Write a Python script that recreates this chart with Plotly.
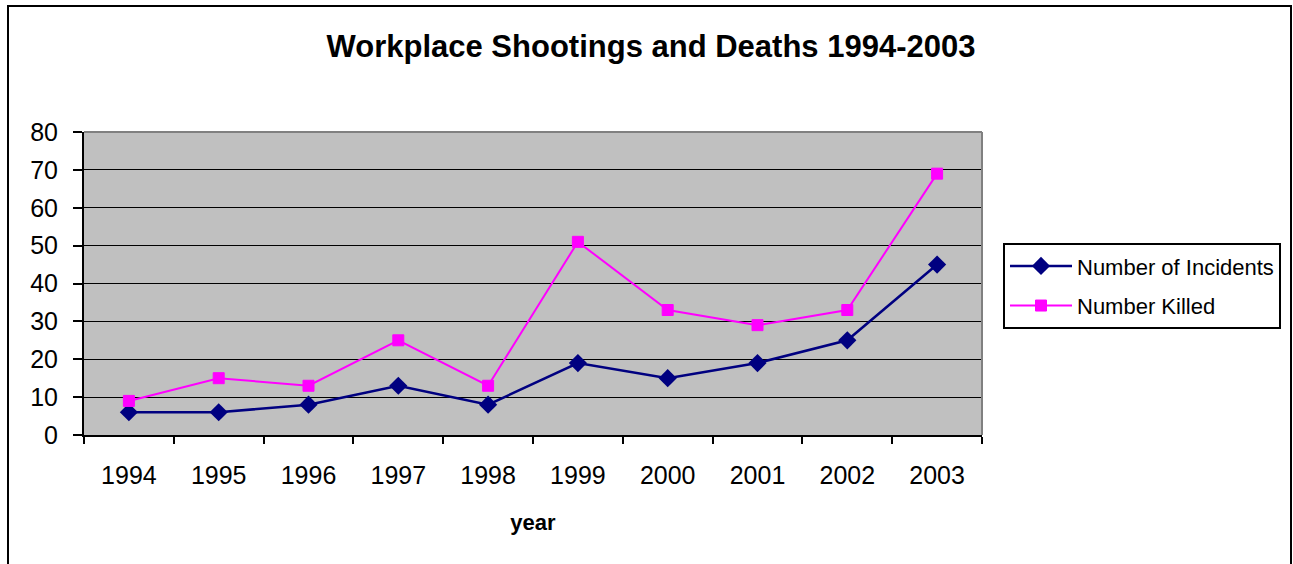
import plotly.graph_objects as go

years = ["1994", "1995", "1996", "1997", "1998", "1999", "2000", "2001", "2002", "2003"]
incidents = [6, 6, 8, 13, 8, 19, 15, 19, 25, 45]
killed = [9, 15, 13, 25, 13, 51, 33, 29, 33, 69]
y_ticks = [0, 10, 20, 30, 40, 50, 60, 70, 80]

FONT = "Liberation Sans, Arial, sans-serif"
W, H = 1293, 564
L, R, T, B = 84, 982, 131.5, 435.5
pw, ph = R - L, B - T

xs = list(range(len(years)))

fig = go.Figure()
fig.add_trace(go.Scatter(
    x=xs, y=incidents, name="Number of Incidents", mode="lines+markers",
    legendgroup="a",
    line=dict(color="#000080", width=2.5),
    marker=dict(symbol="diamond", size=14, color="#000080"),
))
fig.add_trace(go.Scatter(
    x=xs, y=killed, name="Number Killed", mode="lines+markers",
    legendgroup="b",
    line=dict(color="#FF00FF", width=2),
    marker=dict(symbol="square", size=11, color="#FF00FF",
                line=dict(color="#FF00FF", width=1)),
))

def px_x(p):
    return (p - L) / pw

def px_y(p):
    return (B - p) / ph

fig.update_layout(
    width=W, height=H,
    margin=dict(l=L, r=W - R, t=T, b=H - B, pad=0),
    paper_bgcolor="white",
    plot_bgcolor="#C0C0C0",
    font=dict(family=FONT, color="black"),
    title=dict(text="<b>Workplace Shootings and Deaths 1994-2003</b>",
               font=dict(size=31, family=FONT, color="black"),
               x=651 / W, xref="container", xanchor="center",
               y=1 - 46 / H, yref="container", yanchor="middle"),
    showlegend=True,
    legend=dict(
        x=px_x(1003), y=px_y(243), xanchor="left", yanchor="top",
        bgcolor="white", bordercolor="black", borderwidth=2,
        font=dict(size=22, family=FONT, color="black"),
        itemwidth=62, tracegroupgap=8,
    ),
    xaxis=dict(
        range=[-0.5, len(years) - 0.5],
        tickmode="array", tickvals=xs, ticktext=years,
        ticks="", showgrid=False, zeroline=False,
        showline=True, linecolor="black", linewidth=2,
        tickfont=dict(size=25, family=FONT, color="black"),
        ticklabelstandoff=17,
        minor=dict(tickmode="array",
                   tickvals=[i - 0.5 for i in range(len(years) + 1)],
                   ticks="outside", ticklen=7, tickwidth=2, tickcolor="black",
                   showgrid=False),
        title=dict(text="<b>year</b>", font=dict(size=22, family=FONT, color="black"),
                   standoff=27),
        fixedrange=True,
    ),
    yaxis=dict(
        range=[0, 80], tickmode="array", tickvals=y_ticks,
        ticks="outside", ticklen=9, tickwidth=2, tickcolor="black",
        showgrid=True, gridcolor="black", gridwidth=1,
        zeroline=False, showline=True, linecolor="black", linewidth=2,
        tickfont=dict(size=25, family=FONT, color="black"),
        ticklabelstandoff=10,
        fixedrange=True,
    ),
    shapes=[
        dict(type="line", xref="paper", yref="paper", x0=0, x1=1, y0=1, y1=1,
             line=dict(color="#808080", width=2), layer="above"),
        dict(type="line", xref="paper", yref="paper", x0=1, x1=1, y0=0, y1=1,
             line=dict(color="#808080", width=2), layer="above"),
        dict(type="rect", xref="paper", yref="paper",
             x0=px_x(8), x1=px_x(1291), y0=px_y(5), y1=px_y(570),
             line=dict(color="black", width=2), layer="above"),
    ],
)

fig.write_html("out.html")
